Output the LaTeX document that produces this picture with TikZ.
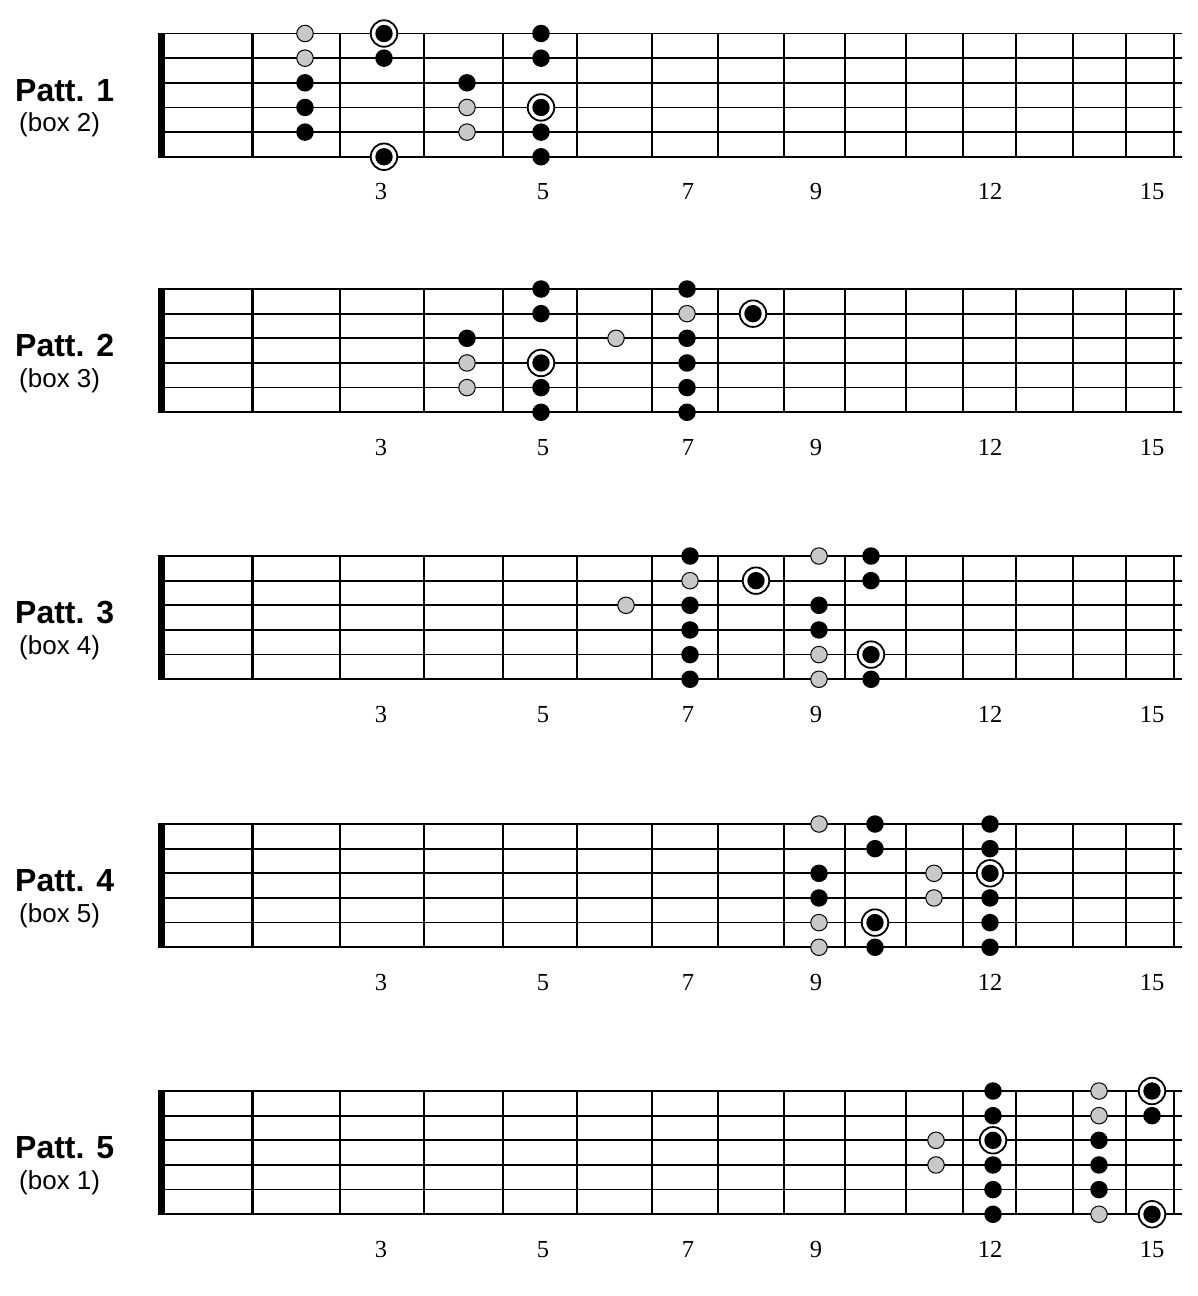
\documentclass[tikz,border=0pt]{standalone}
\usepackage{fontspec}
\setmainfont{Liberation Serif}
\newfontfamily\labelfont{Liberation Sans}
\definecolor{dotgray}{RGB}{200,200,200}
\newcommand\sgap{24.65}
\newcommand\board[3]{%
  % #1 top string y, #2 pattern number, #3 box number
  \foreach \s in {0,...,5}
    \draw[gstring] (158,{#1+\s*\sgap}) -- (1182,{#1+\s*\sgap});
  \foreach \fx in {252.5,340,424,503,577,652,718,784,845,906,963,1016,1073,1126,1174}
    \draw[fretline] (\fx,#1) -- (\fx,{#1+5*\sgap});
  \draw[nutline] (161.5,{#1-0.85}) -- (161.5,{#1+5*\sgap+0.85});
  \node[pattlabel] (patt#2) at (15,{#1+67.5}) {Patt. #2};
  \node[boxlabel] (box#2) at (19,{#1+98}) {(box #3)};
  \foreach \n/\nx in {3/381,5/543,7/688,9/816,12/990,15/1152}
    \node[fretnum] (num#2-\n) at (\nx,{#1+166}) {\n};
}
\newcommand\fingerdots[3]{%
  % #1 top string y, #2 pattern number, #3 list x/string/style
  \foreach \dx/\ds/\dt [count=\i] in {#3}
    \node[\dt] (p#2-\i) at (\dx,{#1+(\ds-1)*\sgap}) {};
}
\begin{document}
\begin{tikzpicture}[x=1pt,y=-1pt,
  gstring/.style={line width=1.7pt,black},
  fretline/.style={line width=2.6pt,black},
  nutline/.style={line width=7pt,black},
  pattlabel/.style={anchor=base west,inner sep=0pt,font=\labelfont\bfseries\fontsize{32}{36}\selectfont},
  boxlabel/.style={anchor=base west,inner sep=0pt,font=\labelfont\fontsize{26}{30}\selectfont},
  fretnum/.style={anchor=base,inner sep=0pt,font=\fontsize{24.5}{28}\selectfont},
  bdot/.style={circle,fill=black,inner sep=0pt,minimum size=17.5pt},
  gdot/.style={circle,fill=dotgray,draw=black,line width=1pt,inner sep=0pt,minimum size=16.5pt},
  rdot/.style={circle,fill=white,draw=black,line width=1.8pt,inner sep=0pt,minimum size=26.5pt,
    path picture={\fill[black] (path picture bounding box.center) circle (8.7pt);}},
]
\useasboundingbox[fill=white] (0,0) rectangle (1198,1296);

\board{33.5}{1}{2}
\board{289}{2}{3}
\board{556}{3}{4}
\board{824}{4}{5}
\board{1091}{5}{1}

\fingerdots{33.5}{1}{305/1/gdot,305/2/gdot,305/3/bdot,305/4/bdot,305/5/bdot,
  384/1/rdot,384/2/bdot,384/6/rdot,
  467/3/bdot,467/4/gdot,467/5/gdot,
  541/1/bdot,541/2/bdot,541/4/rdot,541/5/bdot,541/6/bdot}

\fingerdots{289}{2}{467/3/bdot,467/4/gdot,467/5/gdot,
  541/1/bdot,541/2/bdot,541/4/rdot,541/5/bdot,541/6/bdot,
  616/3/gdot,
  687/1/bdot,687/2/gdot,687/3/bdot,687/4/bdot,687/5/bdot,687/6/bdot,
  753/2/rdot}

\fingerdots{556}{3}{626/3/gdot,
  690/1/bdot,690/2/gdot,690/3/bdot,690/4/bdot,690/5/bdot,690/6/bdot,
  756/2/rdot,
  819/1/gdot,819/3/bdot,819/4/bdot,819/5/gdot,819/6/gdot,
  871/1/bdot,871/2/bdot,871/5/rdot,871/6/bdot}

\fingerdots{824}{4}{819/1/gdot,819/3/bdot,819/4/bdot,819/5/gdot,819/6/gdot,
  875/1/bdot,875/2/bdot,875/5/rdot,875/6/bdot,
  934/3/gdot,934/4/gdot,
  990/1/bdot,990/2/bdot,990/3/rdot,990/4/bdot,990/5/bdot,990/6/bdot}

\fingerdots{1091}{5}{936/3/gdot,936/4/gdot,
  993/1/bdot,993/2/bdot,993/3/rdot,993/4/bdot,993/5/bdot,993/6/bdot,
  1099/1/gdot,1099/2/gdot,1099/3/bdot,1099/4/bdot,1099/5/bdot,1099/6/gdot,
  1152/1/rdot,1152/2/bdot,1152/6/rdot}
\end{tikzpicture}
\end{document}
